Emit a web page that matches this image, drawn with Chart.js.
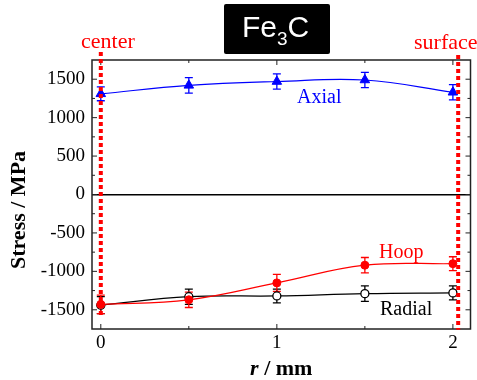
<!DOCTYPE html>
<html>
<head>
<meta charset="utf-8">
<script src="https://cdn.jsdelivr.net/npm/chart.js@4.4.1/dist/chart.umd.min.js"></script>
<style>
  html, body { margin: 0; padding: 0; background: #fff; }
</style>
</head>
<body>
<canvas id="stressChart" width="477" height="380"></canvas>
<script>
// ================= DATA =================
const radius = [0, 0.5, 1, 1.5, 2];

const axial = [1310, 1420, 1470, 1490, 1330];
const axialErr = [90, 100, 100, 100, 100];

const hoop = [-1430, -1370, -1150, -920, -900];
const hoopErr = [120, 100, 110, 100, 90];

const radial = [-1440, -1330, -1320, -1290, -1280];
const radialErr = [110, 100, 90, 100, 90];

const xTicks = [0, 1, 2];
const xMinorTicks = [0.5, 1.5];
const yTicks = [-1500, -1000, -500, 0, 500, 1000, 1500];
const yMinorTicks = [-1250, -750, -250, 250, 750, 1250];

// dotted marker lines (center / surface)
const markerLabels = ["center", "surface"];
const markerX = [0, 2.03];
const markerTop = [1855, 1815];
const markerBottom = [-1605, -1760];

const SERIF = "'Liberation Serif', 'Times New Roman', serif";
const SANS = "'Liberation Sans', Arial, sans-serif";

// ================= DECORATION PLUGIN =================
const errorBars = {
  id: "errorBars",
  beforeDatasetsDraw(chart) {
    const ctx = chart.ctx;
    const x = chart.scales.x, y = chart.scales.y;
    const sets = [
      [axial, axialErr, "#0000ff"],
      [radial, radialErr, "#000000"],
      [hoop, hoopErr, "#ff0000"]
    ];
    ctx.save();
    ctx.lineWidth = 1.3;
    sets.forEach(([vals, errs, color]) => {
      ctx.strokeStyle = color;
      vals.forEach((v, i) => {
        const px = x.getPixelForValue(radius[i]);
        const top = y.getPixelForValue(v + errs[i]);
        const bot = y.getPixelForValue(v - errs[i]);
        ctx.beginPath();
        ctx.moveTo(px, top); ctx.lineTo(px, bot);
        ctx.moveTo(px - 4, top); ctx.lineTo(px + 4, top);
        ctx.moveTo(px - 4, bot); ctx.lineTo(px + 4, bot);
        ctx.stroke();
      });
    });
    ctx.restore();
  }
};

const frame = {
  id: "frame",
  afterDraw(chart) {
    const ctx = chart.ctx;
    const a = chart.chartArea;
    const x = chart.scales.x, y = chart.scales.y;
    ctx.save();

    // frame
    ctx.strokeStyle = "#222";
    ctx.lineWidth = 1.5;
    ctx.strokeRect(a.left, a.top, a.right - a.left, a.bottom - a.top);

    // inward ticks
    ctx.lineWidth = 1;
    ctx.beginPath();
    yTicks.forEach(v => {
      const p = y.getPixelForValue(v);
      ctx.moveTo(a.left, p); ctx.lineTo(a.left + 5, p);
      ctx.moveTo(a.right, p); ctx.lineTo(a.right - 5, p);
    });
    yMinorTicks.forEach(v => {
      const p = y.getPixelForValue(v);
      ctx.moveTo(a.left, p); ctx.lineTo(a.left + 3, p);
      ctx.moveTo(a.right, p); ctx.lineTo(a.right - 3, p);
    });
    xTicks.forEach(v => {
      const p = x.getPixelForValue(v);
      ctx.moveTo(p, a.bottom); ctx.lineTo(p, a.bottom - 5);
      ctx.moveTo(p, a.top); ctx.lineTo(p, a.top + 5);
    });
    xMinorTicks.forEach(v => {
      const p = x.getPixelForValue(v);
      ctx.moveTo(p, a.bottom); ctx.lineTo(p, a.bottom - 3);
      ctx.moveTo(p, a.top); ctx.lineTo(p, a.top + 3);
    });
    ctx.stroke();

    // red dotted lines
    ctx.strokeStyle = "#ff0000";
    ctx.lineWidth = 4;
    ctx.setLineDash([4, 3]);
    markerX.forEach((mx, i) => {
      const p = x.getPixelForValue(mx);
      ctx.beginPath();
      ctx.moveTo(p, y.getPixelForValue(markerTop[i]));
      ctx.lineTo(p, y.getPixelForValue(markerBottom[i]));
      ctx.stroke();
    });
    ctx.setLineDash([]);

    // marker labels
    ctx.fillStyle = "#ff0000";
    ctx.font = "22px " + SERIF;
    ctx.textAlign = "left";
    ctx.textBaseline = "alphabetic";
    ctx.fillText(markerLabels[0], 81, 48);
    ctx.fillText(markerLabels[1], 414, 49);

    // series labels
    ctx.font = "20px " + SERIF;
    ctx.fillStyle = "#0000ff";
    ctx.fillText("Axial", 297, 103);
    ctx.fillStyle = "#ff0000";
    ctx.fillText("Hoop", 379, 258);
    ctx.fillStyle = "#000000";
    ctx.fillText("Radial", 380, 315);

    // title box
    ctx.fillStyle = "#000";
    ctx.beginPath();
    ctx.roundRect(224, 4, 106, 50, 2);
    ctx.fill();
    ctx.fillStyle = "#fff";
    ctx.font = "30px " + SANS;
    let tx = 242;
    ctx.fillText("Fe", tx, 37);
    tx += ctx.measureText("Fe").width;
    ctx.font = "19px " + SANS;
    ctx.fillText("3", tx, 45);
    tx += ctx.measureText("3").width;
    ctx.font = "30px " + SANS;
    ctx.fillText("C", tx, 37);

    // axis titles
    ctx.fillStyle = "#000";
    ctx.font = "bold 22px " + SERIF;
    ctx.save();
    ctx.translate(25, 210);
    ctx.rotate(-Math.PI / 2);
    ctx.textAlign = "center";
    ctx.fillText("Stress / MPa", 0, 0);
    ctx.restore();

    const cx = (a.left + a.right) / 2;
    ctx.font = "italic bold 22px " + SERIF;
    const w1 = ctx.measureText("r").width;
    ctx.font = "bold 22px " + SERIF;
    const w2 = ctx.measureText(" / mm").width;
    let sx = cx - (w1 + w2) / 2;
    ctx.font = "italic bold 22px " + SERIF;
    ctx.fillText("r", sx, 375);
    ctx.font = "bold 22px " + SERIF;
    ctx.fillText(" / mm", sx + w1, 375);

    ctx.restore();
  }
};

// ================= CHART =================
const toPoints = vals => vals.map((v, i) => ({ x: radius[i], y: v }));

new Chart(document.getElementById("stressChart"), {
  type: "line",
  data: {
    datasets: [
      {
        label: "Axial",
        data: toPoints(axial),
        borderColor: "#0000ff",
        backgroundColor: "#0000ff",
        borderWidth: 1.2,
        pointStyle: "triangle",
        pointRadius: 5.5,
        pointBorderWidth: 1,
        tension: 0.4,
        order: 1
      },
      {
        label: "Hoop",
        data: toPoints(hoop),
        borderColor: "#ff0000",
        backgroundColor: "#ff0000",
        borderWidth: 1.2,
        pointStyle: "circle",
        pointRadius: 4,
        pointBorderWidth: 1,
        tension: 0.4,
        order: 2
      },
      {
        label: "Radial",
        data: toPoints(radial),
        borderColor: "#000000",
        backgroundColor: "#ffffff",
        pointBackgroundColor: "#ffffff",
        borderWidth: 1.2,
        pointStyle: "circle",
        pointRadius: 4,
        pointBorderWidth: 1.3,
        tension: 0.4,
        order: 3
      }
    ]
  },
  options: {
    responsive: false,
    animation: false,
    layout: { padding: { top: 60, right: 5, left: 0, bottom: 0 } },
    plugins: {
      legend: { display: false },
      tooltip: { enabled: false }
    },
    scales: {
      x: {
        type: "linear",
        min: -0.05,
        max: 2.1,
        afterBuildTicks: s => { s.ticks = xTicks.map(v => ({ value: v })); },
        afterFit: s => { s.height = 51; },
        grid: { display: false, drawTicks: false },
        border: { display: false },
        ticks: {
          padding: 3,
          color: "#000",
          font: { family: SERIF, size: 19 },
          callback: v => String(v)
        }
      },
      y: {
        min: -1750,
        max: 1750,
        afterBuildTicks: s => { s.ticks = yTicks.map(v => ({ value: v })); },
        afterFit: s => { s.width = 92; },
        grid: {
          drawTicks: false,
          color: c => (c.tick && c.tick.value === 0 ? "#000" : "rgba(0,0,0,0)"),
          lineWidth: 1.5
        },
        border: { display: false },
        ticks: {
          padding: 7,
          color: "#000",
          font: { family: SERIF, size: 19 },
          callback: v => String(v)
        }
      }
    }
  },
  plugins: [errorBars, frame]
});
</script>
</body>
</html>
